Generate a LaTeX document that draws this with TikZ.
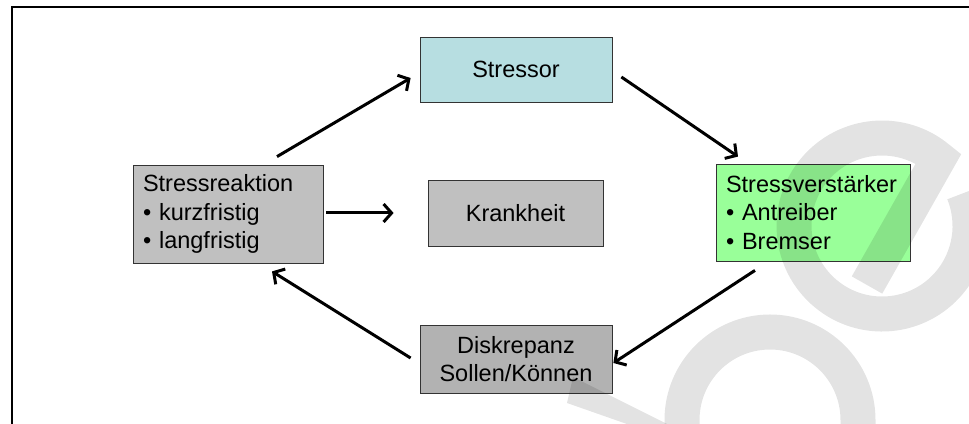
\documentclass[tikz,border=0pt]{standalone}
\usepackage{fontspec}
\setmainfont{Liberation Sans}
\usetikzlibrary{positioning,calc,arrows.meta}
\definecolor{stressorblue}{RGB}{183,222,225}
\definecolor{boxgray}{RGB}{192,192,192}
\definecolor{diskgray}{RGB}{178,178,178}
\definecolor{boostgreen}{RGB}{153,255,153}

\begin{document}
\begin{tikzpicture}[x=1pt,y=1pt,
    box/.style={draw=black!80,line width=0.8pt,inner sep=0pt,
      font=\fontsize{23.5}{28.5}\selectfont},
    flow/.style={line width=3pt,-{Straight Barb[length=8pt,width=18pt]}},
    wmark/.style={line width=35pt,black,opacity=0.11}]
    \useasboundingbox (0,0) rectangle (969,423);
    % frame, cut at right and bottom
    \draw[line width=2pt] (12,-5) -- (12,416) -- (975,416);
    % boxes
    \node[box,fill=stressorblue,minimum width=192pt,minimum height=65pt]
      (stressor) at (516,353.5) {Stressor};
    \node[box,fill=boxgray,align=left,inner xsep=10pt,text width=170pt,minimum height=98pt]
      (reaktion) at (228,209) {Stressreaktion\\• kurzfristig\\• langfristig};
    \node[box,fill=boxgray,minimum width=175pt,minimum height=66pt]
      (krankheit) at (515.5,210) {Krankheit};
    \node[box,fill=boostgreen,align=left,inner xsep=10pt,text width=174pt,minimum height=97pt]
      (verstaerker) at (813,210.5) {Stressverstärker\\• Antreiber\\• Bremser};
    \node[box,fill=diskgray,align=center,minimum width=192pt,minimum height=68pt]
      (diskrepanz) at (516,64) {Diskrepanz\\Sollen/Können};
    % cycle
    \draw[flow] ($(reaktion.north)+(49,8)$) -- ($(stressor.west)+(-9,-8.5)$);
    \draw[flow] ($(stressor.east)+(9,-7.5)$) -- ($(verstaerker.north)+(-75,7)$);
    \draw[flow] ($(verstaerker.south)+(-58,-9)$) -- ($(diskrepanz.east)+(1,-4)$);
    \draw[flow] ($(diskrepanz.west)+(-9,1)$) -- ($(reaktion.south)+(44,-8)$);
    \draw[flow] ($(reaktion.east)+(3,1)$) -- ($(krankheit.west)+(-34,0)$);
    % faint watermark
    \draw[wmark] (867,138) -- (938.6,264.4) arc[start angle=50,end angle=382,radius=88];
    \draw[wmark] (858,-10) -- (858,3) arc[start angle=0,end angle=180,radius=88] -- (682,-10);
    \fill[black,opacity=0.11] (573,46) -- (679,-7) -- (644,-7) -- (567,20) -- cycle;
\end{tikzpicture}
\end{document}
